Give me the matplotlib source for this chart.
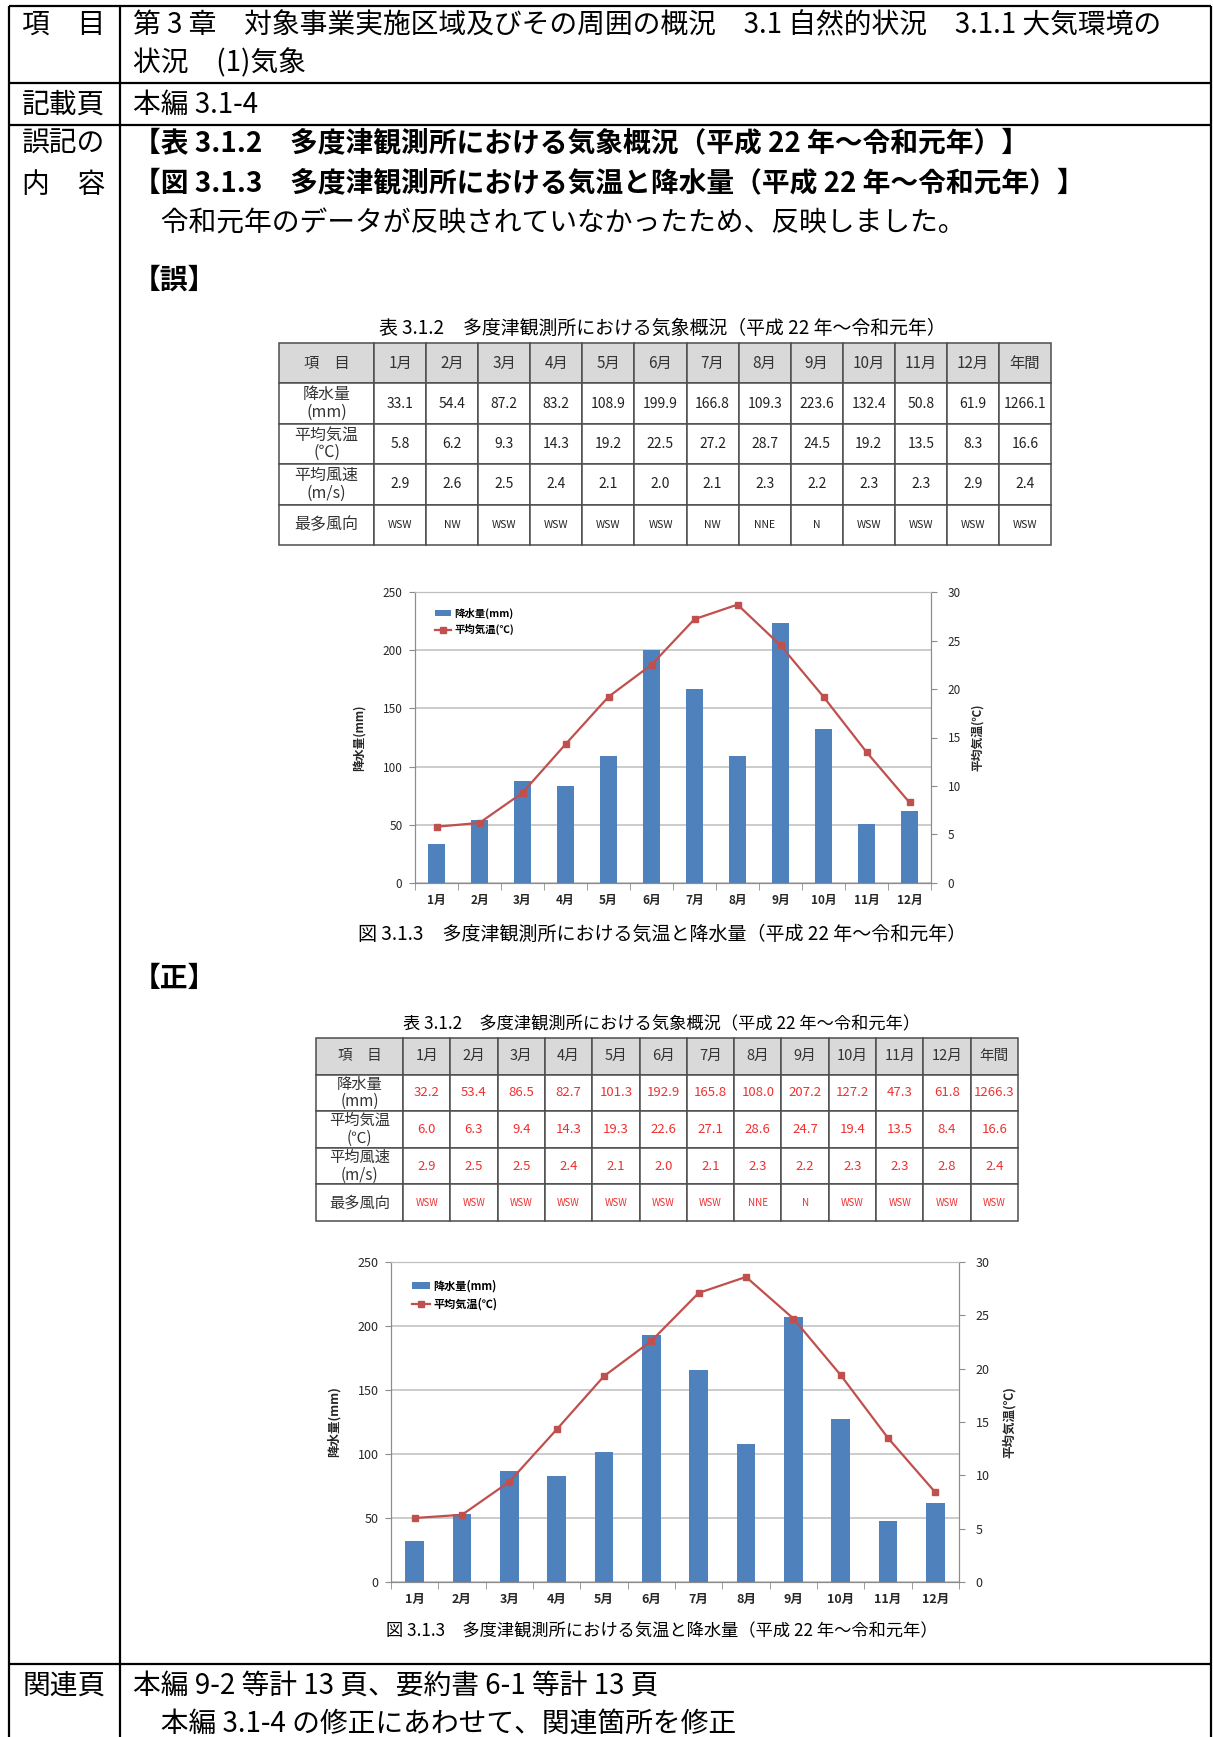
import numpy as np
import matplotlib
matplotlib.use('Agg')
import matplotlib.pyplot as plt
from matplotlib.patches import Patch
from matplotlib.lines import Line2D
from matplotlib.ticker import MultipleLocator

plt.rcParams['font.family'] = ['Noto Sans CJK JP', 'DejaVu Sans']

W, H = 1213, 1737

# 月ラベル
months = ['1月', '2月', '3月', '4月', '5月', '6月', '7月', '8月', '9月', '10月', '11月', '12月']
table_cols = months + ['年間']
row_labels = ['降水量\n(mm)', '平均気温\n(℃)', '平均風速\n(m/s)', '最多風向']

# 【誤】平成22年～令和元年（令和元年未反映）
rain_old = [33.1, 54.4, 87.2, 83.2, 108.9, 199.9, 166.8, 109.3, 223.6, 132.4, 50.8, 61.9]
rain_old_year = 1266.1
temp_old = [5.8, 6.2, 9.3, 14.3, 19.2, 22.5, 27.2, 28.7, 24.5, 19.2, 13.5, 8.3]
temp_old_year = 16.6
wind_old = [2.9, 2.6, 2.5, 2.4, 2.1, 2.0, 2.1, 2.3, 2.2, 2.3, 2.3, 2.9]
wind_old_year = 2.4
dir_old = ['WSW', 'NW', 'WSW', 'WSW', 'WSW', 'WSW', 'NW', 'NNE', 'N', 'WSW', 'WSW', 'WSW']
dir_old_year = 'WSW'

# 【正】平成22年～令和元年
rain_new = [32.2, 53.4, 86.5, 82.7, 101.3, 192.9, 165.8, 108.0, 207.2, 127.2, 47.3, 61.8]
rain_new_year = 1266.3
temp_new = [6.0, 6.3, 9.4, 14.3, 19.3, 22.6, 27.1, 28.6, 24.7, 19.4, 13.5, 8.4]
temp_new_year = 16.6
wind_new = [2.9, 2.5, 2.5, 2.4, 2.1, 2.0, 2.1, 2.3, 2.2, 2.3, 2.3, 2.8]
wind_new_year = 2.4
dir_new = ['WSW', 'WSW', 'WSW', 'WSW', 'WSW', 'WSW', 'WSW', 'NNE', 'N', 'WSW', 'WSW', 'WSW']
dir_new_year = 'WSW'

TABLE_TITLE = '表 3.1.2　多度津観測所における気象概況（平成 22 年～令和元年）'
FIG_CAPTION = '図 3.1.3　多度津観測所における気温と降水量（平成 22 年～令和元年）'

BAR_COLOR = '#4F81BD'
LINE_COLOR = '#C0504D'
GRID_COLOR = '#BFBFBF'
AXIS_COLOR = '#8C8C8C'
TEXT_DARK = '#262626'


def px_rect(x0, y0, x1, y1):
    # ピクセル座標(左上原点)から figure 座標へ
    return [x0 / W, 1 - y1 / H, (x1 - x0) / W, (y1 - y0) / H]


fig = plt.figure(figsize=(W / 100, H / 100), dpi=100)
fig.patch.set_facecolor('white')

# ページ全体（枠線と本文）
page = fig.add_axes([0, 0, 1, 1])
page.set_xlim(0, W)
page.set_ylim(H, 0)
page.axis('off')

left, mid, right, top = 9, 120, 1211, 6
page.vlines([left, mid, right], top, H, color='black', lw=1.6)
page.hlines([top, 83, 125, 1664], left, right, color='black', lw=1.6)

body = dict(fontsize=20, va='center', ha='left', color='black')
head = dict(fontsize=20, va='center', ha='center', color='black')
page.text(64, 25, '項　目', **head)
page.text(64, 105, '記載頁', **head)
page.text(64, 144, '誤記の', **head)
page.text(64, 185, '内　容', **head)
page.text(64, 1686, '関連頁', **head)

page.text(133, 25, '第 3 章　対象事業実施区域及びその周囲の概況　3.1 自然的状況　3.1.1 大気環境の', **body)
page.text(133, 63, '状況　(1)気象', **body)
page.text(133, 105, '本編 3.1-4', **body)
page.text(133, 144, '【表 3.1.2　多度津観測所における気象概況（平成 22 年～令和元年）】', fontweight='bold', **body)
page.text(133, 184, '【図 3.1.3　多度津観測所における気温と降水量（平成 22 年～令和元年）】', fontweight='bold', **body)
page.text(133, 224, '　令和元年のデータが反映されていなかったため、反映しました。', **body)
page.text(133, 281, '【誤】', fontweight='bold', **body)
page.text(133, 979, '【正】', fontweight='bold', **body)
page.text(133, 1686, '本編 9-2 等計 13 頁、要約書 6-1 等計 13 頁', **body)
page.text(133, 1724, '　本編 3.1-4 の修正にあわせて、関連箇所を修正', **body)


def draw_table(box, title_y, title_fs, rain, rain_y, temp, temp_y, wind, wind_y,
               dirs, dir_y, value_color, fs, label_fs, dir_fs, first_w, col_w):
    tax = fig.add_axes(px_rect(*box))
    tax.axis('off')
    cells = [['項　目'] + table_cols,
             [row_labels[0]] + [f'{v:.1f}' for v in rain + [rain_y]],
             [row_labels[1]] + [f'{v:.1f}' for v in temp + [temp_y]],
             [row_labels[2]] + [f'{v:.1f}' for v in wind + [wind_y]],
             [row_labels[3]] + dirs + [dir_y]]
    tbl = tax.table(cellText=cells, cellLoc='center', bbox=[0, 0, 1, 1],
                    colWidths=[first_w] + [col_w] * 13)
    tbl.auto_set_font_size(False)
    tbl.set_fontsize(fs)
    for (r, c), cell in tbl.get_celld().items():
        cell.set_edgecolor('#4D4D4D')
        cell.set_linewidth(1.1)
        txt = cell.get_text()
        txt.set_color('#333333')
        if r == 0:
            cell.set_facecolor('#D9D9D9')
            txt.set_fontsize(label_fs - 0.5)
        elif c == 0:
            txt.set_fontsize(label_fs)
            txt.set_linespacing(1.05)
        else:
            txt.set_color(value_color)
            if r == 4:
                txt.set_fontsize(dir_fs)
    page.text(662, title_y, TABLE_TITLE, fontsize=title_fs, ha='center', va='center',
              color='black')


def draw_chart(box, rain, temp, fs, legend_fs, legend_anchor, ylabel_pad, y2label_pad,
               caption_y, caption_fs):
    ax = fig.add_axes(px_rect(*box))
    x = np.arange(len(months))
    ax.bar(x, rain, width=0.4, color=BAR_COLOR, zorder=2)
    ax.set_xlim(-0.5, 11.5)
    ax.set_ylim(0, 250)
    ax.yaxis.set_major_locator(MultipleLocator(50))
    ax.grid(axis='y', color=GRID_COLOR, lw=1.1)
    ax.set_axisbelow(True)
    ax.set_xticks(x, months, fontweight='bold')
    ax.set_xticks(np.arange(-0.5, 12, 1), minor=True)
    ax.tick_params(axis='x', which='major', length=0, pad=8, labelsize=fs, labelcolor=TEXT_DARK)
    ax.tick_params(axis='x', which='minor', length=5, color=AXIS_COLOR)
    ax.tick_params(axis='y', length=4, color=AXIS_COLOR, labelsize=fs, labelcolor=TEXT_DARK, pad=5)
    ax.set_ylabel('降水量(mm)', fontsize=fs, color=TEXT_DARK, labelpad=ylabel_pad,
                  fontweight='bold')

    ax2 = ax.twinx()
    ax2.plot(x, temp, color=LINE_COLOR, lw=1.6, marker='s', ms=4.5)
    ax2.set_ylim(0, 30)
    ax2.yaxis.set_major_locator(MultipleLocator(5))
    ax2.tick_params(axis='y', length=4, color=AXIS_COLOR, labelsize=fs, labelcolor=TEXT_DARK, pad=8)
    ax2.set_ylabel('平均気温(℃)', fontsize=fs, color=TEXT_DARK, rotation=90,
                   labelpad=y2label_pad, fontweight='bold')

    for a in (ax, ax2):
        for side in ('left', 'right', 'bottom'):
            a.spines[side].set_color(AXIS_COLOR)
        a.spines['top'].set_color(GRID_COLOR)

    handles = [Patch(facecolor=BAR_COLOR, edgecolor='none'),
               Line2D([], [], color=LINE_COLOR, lw=1.6, marker='s', ms=4.5)]
    ax2.legend(handles, ['降水量(mm)', '平均気温(℃)'], loc='upper left',
               bbox_to_anchor=legend_anchor, frameon=False,
               prop={'size': legend_fs, 'weight': 'bold'},
               handlelength=1.6, handleheight=0.6, handletextpad=0.3,
               labelspacing=0.5, borderaxespad=0)

    page.text(662, caption_y, FIG_CAPTION, fontsize=caption_fs, ha='center', va='center',
              color='black')


# 誤
draw_table((279, 343, 1051, 545), 328, 13.6, rain_old, rain_old_year, temp_old, temp_old_year,
           wind_old, wind_old_year, dir_old, dir_old_year, '#222222', 10, 11.5, 7.5, 95, 52)
draw_chart((415, 592, 931, 883), rain_old, temp_old, 8.5, 7.5, (0.03, 0.96), 12, 7, 934, 13.7)

# 正
draw_table((316, 1038, 1018, 1221), 1024, 12.4, rain_new, rain_new_year, temp_new, temp_new_year,
           wind_new, wind_new_year, dir_new, dir_new_year, '#F03030', 9.5, 11, 7, 87, 47.3)
draw_chart((391, 1262, 959, 1582), rain_new, temp_new, 9, 8, (0.03, 0.96), 12, 9, 1631, 12.4)

fig.savefig('out.png', dpi=100, facecolor='white')
